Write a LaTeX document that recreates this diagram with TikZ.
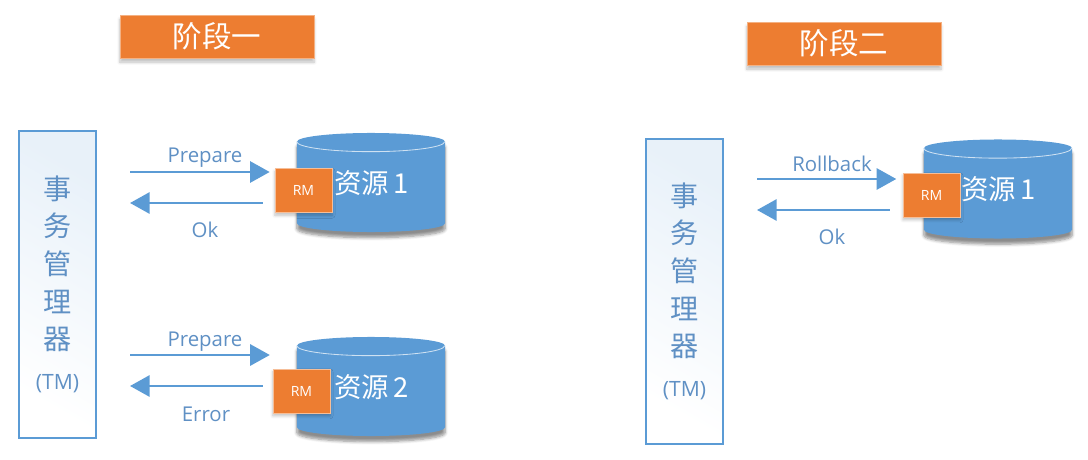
\documentclass[tikz,border=0pt]{standalone}
\usepackage{fontspec}
\setmainfont{Open Sans}
\newfontfamily\cjk{Noto Sans CJK SC}
\usetikzlibrary{arrows.meta,shapes.geometric,shadows.blur}
\definecolor{barblue}{HTML}{5B9BD5}
\definecolor{inkblue}{HTML}{5F90C4}
\definecolor{boxorange}{HTML}{ED7D31}
\tikzset{
  stagebox/.style={fill=boxorange,draw=boxorange!60!white,line width=0.5pt,text=white,minimum width=4.85cm,minimum height=1.075cm,
    font=\cjk\fontsize{21}{24}\selectfont,blur shadow={shadow xshift=0pt,shadow yshift=-3pt,shadow blur steps=6,shadow opacity=25,fill=boxorange}},
  tmbox/.style={draw=barblue,line width=1.1pt,top color=barblue!14,bottom color=white,shading angle=-30,text=inkblue,align=center,
    minimum width=1.925cm,font=\cjk\fontsize{20}{26.7}\selectfont},
  store/.style={cylinder,shape border rotate=90,aspect=0.27,anchor=shape center,fill=barblue,minimum width=3.7cm,minimum height=2.475cm,
    font=\cjk\fontsize{19.5}{24}\selectfont,blur shadow={shadow xshift=0pt,shadow yshift=-4pt,shadow blur steps=6,shadow opacity=45,fill=barblue}},
  storename/.style={text=white,font=\cjk\fontsize{19.5}{24}\selectfont},
  rmbox/.style={fill=boxorange,draw=boxorange!50!white,line width=0.5pt,text=white,minimum width=1.425cm,minimum height=1.1cm,
    font=\fontsize{10}{11}\selectfont,blur shadow={shadow xshift=0pt,shadow yshift=-2pt,shadow blur steps=5,shadow opacity=25,fill=boxorange}},
  flow/.style={draw=barblue,line width=2pt,-{Triangle[length=14pt,width=15pt]}},
  msg/.style={text=inkblue,font=\fontsize{14.5}{16}\selectfont},
  rim/.style={draw=white!70!barblue,line width=0.6pt}
}
\begin{document}
\begin{tikzpicture}[x=0.025cm,y=-0.025cm]
  \useasboundingbox (0,0) rectangle (1088,460);
  % left half
  \node[stagebox] (stagea) at (217,36.5) {阶段一};
  \node[tmbox,minimum height=7.675cm] (tma) at (57.5,284.5) {事\\务\\管\\理\\器\\[2pt]{\fontspec{Open Sans}\fontsize{15}{16}\selectfont (TM)}};
  \node[store] (dba) at (371,182.5) {\phantom{资源}};
  \node[store] (dbb) at (371,386.5) {\phantom{资源}};
  \draw[rim] (dba.before top) arc (180:0:74 and 10);
  \draw[rim] (dbb.before top) arc (180:0:74 and 10);
  \node[storename] (namea) at (371.5,183) {资源\,1};
  \node[storename] (nameb) at (371.5,387) {资源\,2};
  \node[rmbox] (rma) at (303.5,190.5) {RM};
  \node[rmbox] (rmb) at (301.5,391) {RM};
  \coordinate (aout) at (130,172);
  \coordinate (aback) at (130,203);
  \coordinate (bout) at (130,355);
  \coordinate (bback) at (130,386);
  \draw[flow,shorten >=3.5pt] (aout) -- (aout -| rma.west);
  \draw[flow] (aback -| rma.west) ++(-12,0) -- (aback);
  \draw[flow,shorten >=2pt] (bout) -- (bout -| rmb.west);
  \draw[flow] (bback -| rmb.west) ++(-10,0) -- (bback);
  \node[msg] (pa) at (205,158) {Prepare};
  \node[msg] (oa) at (205,230) {Ok};
  \node[msg] (pb) at (205,342) {Prepare};
  \node[msg] (eb) at (206,414) {Error};
  % right half
  \node[stagebox] (stageb) at (844,43.5) {阶段二};
  \node[tmbox,minimum height=7.625cm] (tmb) at (684.5,291.5) {事\\务\\管\\理\\器\\[2pt]{\fontspec{Open Sans}\fontsize{15}{16}\selectfont (TM)}};
  \node[store] (dbc) at (998,189) {\phantom{资源}};
  \draw[rim] (dbc.before top) arc (180:0:74 and 10);
  \node[storename] (namec) at (998.5,189) {资源\,1};
  \node[rmbox] (rmc) at (931.5,195) {RM};
  \coordinate (cout) at (757,179);
  \coordinate (cback) at (757,210);
  \draw[flow,shorten >=4.5pt] (cout) -- (cout -| rmc.west);
  \draw[flow] (cback -| rmc.west) ++(-13,0) -- (cback);
  \node[msg] (rc) at (832,164) {Rollback};
  \node[msg] (oc) at (832,237) {Ok};
\end{tikzpicture}
\end{document}
